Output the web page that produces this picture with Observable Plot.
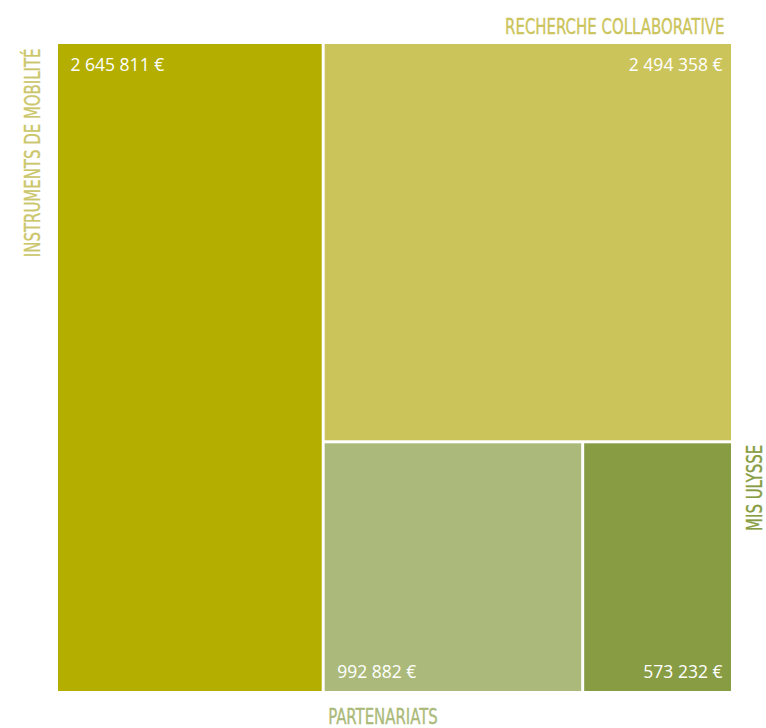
<!DOCTYPE html>
<html><head><meta charset="utf-8">
<script src="https://cdn.jsdelivr.net/npm/d3@7"></script>
<script src="https://cdn.jsdelivr.net/npm/@observablehq/plot@0.6"></script>
<style>body{margin:0;background:#fff}</style>
</head><body><div id="chart"></div>
<script>
const categories = ["INSTRUMENTS DE MOBILITÉ", "RECHERCHE COLLABORATIVE", "PARTENARIATS", "MIS ULYSSE"];
const amounts = [2645811, 2494358, 992882, 573232];
const tileColors = ["#b3ae00", "#cbc45b", "#abba7a", "#879c43"];
const labelColors = ["#cbc66b", "#cbc45b", "#abba7a", "#879c43"];

const W = 673, H = 647;
const fmt = d3.formatLocale({decimal: ",", thousands: "\u00a0", grouping: [3], currency: ["", " €"]}).format(",d");

const data = categories.map((c, i) => ({name: c, value: amounts[i], color: tileColors[i], lcolor: labelColors[i]}));
const root = d3.hierarchy({children: data}).sum(d => d.value || 0);
d3.treemap().tile(d3.treemapBinary).size([W, H]).paddingInner(3)(root);
const leaves = root.leaves().map(n => ({...n.data, x0: n.x0, x1: n.x1, y0: n.y0, y1: n.y1, label: fmt(n.data.value) + " €"}));

const atTop = d => d.y0 === 0;
const atRight = d => Math.abs(d.x1 - W) < 1e-6;
const valFont = {fontFamily: "'Open Sans', sans-serif", fontSize: 17.5, fill: "white", fontWeight: 400};
const catFont = {fontFamily: "'Liberation Sans Narrow', 'DejaVu Sans Condensed', 'Liberation Sans', sans-serif", fontSize: 22, strokeWidth: 0.35};

const chart = Plot.plot({
  width: 766, height: 728,
  marginLeft: 58, marginRight: 35, marginTop: 44, marginBottom: 37,
  x: {domain: [0, W], axis: null},
  y: {domain: [0, H], axis: null, reverse: true},
  marks: [
    Plot.rect(leaves, {x1: "x0", x2: "x1", y1: "y0", y2: "y1", fill: "color"}),
    Plot.text(leaves.filter(d => atTop(d) && !atRight(d)), {x: "x0", y: "y0", text: "label", textAnchor: "start", lineAnchor: "top", dx: 12, dy: 14, ...valFont}),
    Plot.text(leaves.filter(d => atTop(d) && atRight(d)), {x: "x1", y: "y0", text: "label", textAnchor: "end", lineAnchor: "top", dx: -9, dy: 14, ...valFont}),
    Plot.text(leaves.filter(d => !atTop(d) && !atRight(d)), {x: "x0", y: "y1", text: "label", textAnchor: "start", lineAnchor: "bottom", dx: 12, dy: -14, ...valFont}),
    Plot.text(leaves.filter(d => !atTop(d) && atRight(d)), {x: "x1", y: "y1", text: "label", textAnchor: "end", lineAnchor: "bottom", dx: -9, dy: -14, ...valFont}),
    // category labels
    Plot.text(leaves.filter(d => d.name === categories[0]), {x: "x0", y: "y0", text: "name", rotate: -90, textAnchor: "end", lineAnchor: "middle", dx: -26, dy: 4, fill: "lcolor", stroke: "lcolor", ...catFont}),
    Plot.text(leaves.filter(d => d.name === categories[1]), {x: "x1", y: "y0", text: "name", textAnchor: "end", lineAnchor: "middle", dx: -7, dy: -18, fill: "lcolor", stroke: "lcolor", ...catFont}),
    Plot.text(leaves.filter(d => d.name === categories[2]), {x: "x0", y: "y1", text: "name", textAnchor: "start", lineAnchor: "middle", dx: 3, dy: 25, fill: "lcolor", stroke: "lcolor", ...catFont}),
    Plot.text(leaves.filter(d => d.name === categories[3]), {x: "x1", y: "y0", text: "name", rotate: -90, textAnchor: "end", lineAnchor: "middle", dx: 23, dy: 1, fill: "lcolor", stroke: "lcolor", ...catFont})
  ]
});
document.getElementById("chart").appendChild(chart);
// condense category labels (narrow display face)
chart.querySelectorAll("g[font-family*='Narrow'] text").forEach(t => {
  const L = t.getComputedTextLength();
  t.setAttribute("textLength", (L * 0.755).toFixed(1));
  t.setAttribute("lengthAdjust", "spacingAndGlyphs");
});
</script>
</body></html>
